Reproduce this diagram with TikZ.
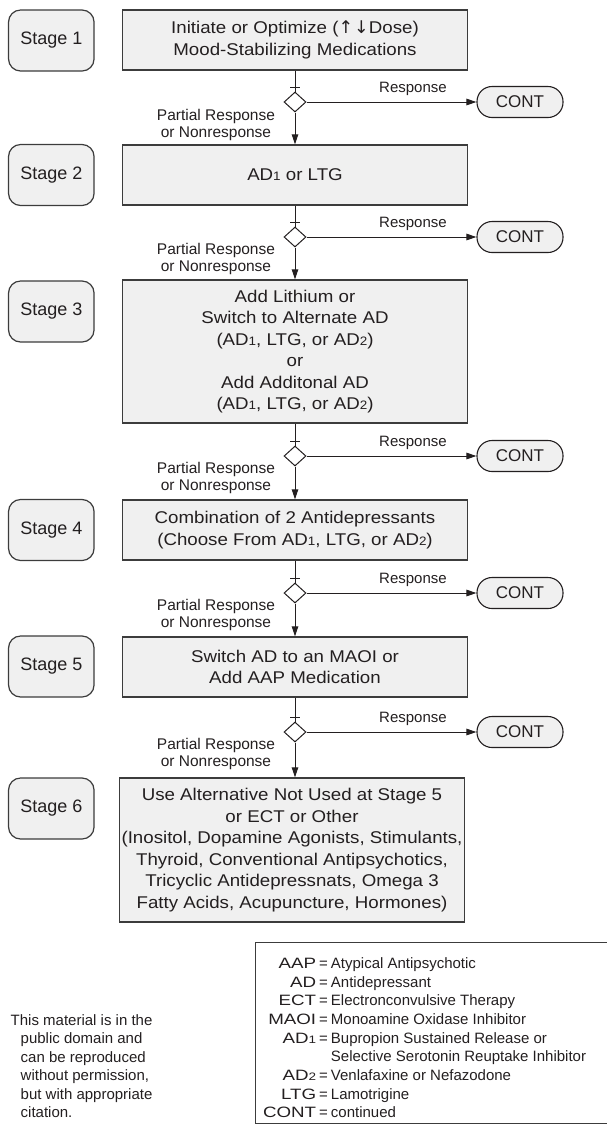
\documentclass[tikz,border=0pt]{standalone}
\usepackage{fontspec}
\setmainfont{Liberation Sans}
\newfontfamily\widefont[FakeStretch=1.1]{Liberation Sans}
\newfontfamily\termfont[FakeStretch=1.25]{Liberation Sans}
\newfontfamily\arrowfont{DejaVu Sans}
\usetikzlibrary{shapes.geometric, arrows.meta, positioning}
\definecolor{inkgray}{HTML}{231F20}
\definecolor{framegray}{HTML}{3C3C3C}
\definecolor{boxfill}{HTML}{F0F0F0}
\newcommand{\dnum}[1]{\scalebox{0.72}{#1}}
\newcommand{\term}[1]{\makebox[58pt][r]{\termfont #1}\hspace{3pt}=\hspace{3pt}}
\tikzset{
  stagebox/.style={draw=framegray, fill=boxfill, line width=1.2pt, rounded corners=12pt,
    minimum width=85.5pt, minimum height=61pt, inner sep=0pt, font=\fontsize{18}{21}\selectfont},
  medbox/.style={draw=framegray, fill=boxfill, line width=1.3pt, minimum width=345.4pt,
    inner xsep=1pt, inner ysep=0pt, align=center, font=\widefont\fontsize{17}{21.5}\selectfont},
  decision/.style={diamond, draw=inkgray, fill=white, line width=1pt,
    minimum width=22pt, minimum height=20pt, inner sep=0pt},
  contbox/.style={draw=inkgray, fill=boxfill, line width=1.1pt, rounded corners=15pt,
    minimum width=86pt, minimum height=31pt, inner sep=0pt, font=\fontsize{17}{17}\selectfont},
  resplabel/.style={font=\fontsize{15}{15}\selectfont},
  partlabel/.style={align=center, font=\fontsize{15.5}{17}\selectfont},
  flow/.style={draw=inkgray, line width=1pt},
}

\begin{document}
\begin{tikzpicture}[x=1pt, y=-1pt, >={Triangle[length=10pt,width=6.5pt]}, every node/.style={text=inkgray}]
  \useasboundingbox (0,0) rectangle (607,1125);

  % Stage labels
  \node[stagebox] (s1) at (51.3,40.5) {Stage 1};
  \node[stagebox] (s2) at (51.3,175) {Stage 2};
  \node[stagebox] (s3) at (51.3,311.5) {Stage 3};
  \node[stagebox] (s4) at (51.3,530) {Stage 4};
  \node[stagebox] (s5) at (51.3,666.5) {Stage 5};
  \node[stagebox] (s6) at (51.3,808.5) {Stage 6};

  % Treatment boxes
  \node[medbox, minimum height=60pt] (b1) at (295,40)
    {Initiate or Optimize ({\arrowfont\fontsize{17.5}{17}\selectfont↑\hspace{1pt}↓}Dose)\\Mood-Stabilizing Medications};
  \node[medbox, minimum height=60pt] (b2) at (295,175) {AD\dnum{1} or LTG};
  \node[medbox, minimum height=143pt] (b3) at (295,351.5)
    {Add Lithium or\\Switch to Alternate AD\\(AD\dnum{1}, LTG, or AD\dnum{2})\\or\\
     Add Additonal AD\\(AD\dnum{1}, LTG, or AD\dnum{2})};
  \node[medbox, minimum height=60pt] (b4) at (295,530)
    {Combination of 2 Antidepressants\\(Choose From AD\dnum{1}, LTG, or AD\dnum{2})};
  \node[medbox, minimum height=60pt] (b5) at (295,667)
    {Switch AD to an MAOI or\\Add AAP Medication};
  \node[medbox, minimum height=144pt] (b6) at (292,850)
    {Use Alternative Not Used at Stage 5\\or ECT or Other\\(Inositol, Dopamine Agonists, Stimulants,\\
     Thyroid, Conventional Antipsychotics,\\Tricyclic Antidepressnats, Omega 3\\Fatty Acids, Acupuncture, Hormones)};

  % Decisions
  \node[decision] (d1) at (295,102) {};
  \node[decision] (d2) at (295,237) {};
  \node[decision] (d3) at (295,456) {};
  \node[decision] (d4) at (295,593) {};
  \node[decision] (d5) at (295,732) {};

  % Continued
  \node[contbox] (c1) at (520,102) {CONT};
  \node[contbox] (c2) at (520,237) {CONT};
  \node[contbox] (c3) at (520,456) {CONT};
  \node[contbox] (c4) at (520,593) {CONT};
  \node[contbox] (c5) at (520,732) {CONT};

  % Ticks
  \coordinate (t1) at (295,87);
  \coordinate (t2) at (295,222);
  \coordinate (t3) at (295,441);
  \coordinate (t4) at (295,578);
  \coordinate (t5) at (295,717);
  \draw[flow] ([xshift=-5pt]t1) -- ([xshift=5pt]t1);
  \draw[flow] ([xshift=-5pt]t2) -- ([xshift=5pt]t2);
  \draw[flow] ([xshift=-5pt]t3) -- ([xshift=5pt]t3);
  \draw[flow] ([xshift=-5pt]t4) -- ([xshift=5pt]t4);
  \draw[flow] ([xshift=-5pt]t5) -- ([xshift=5pt]t5);

  % Connectors
  \draw[flow] (b1) -- (d1);
  \draw[flow, ->] (d1) -- (b2);
  \draw[flow, ->] (d1) -- (c1);
  \draw[flow] (b2) -- (d2);
  \draw[flow, ->] (d2) -- (b3);
  \draw[flow, ->] (d2) -- (c2);
  \draw[flow] (b3) -- (d3);
  \draw[flow, ->] (d3) -- (b4);
  \draw[flow, ->] (d3) -- (c3);
  \draw[flow] (b4) -- (d4);
  \draw[flow, ->] (d4) -- (b5);
  \draw[flow, ->] (d4) -- (c4);
  \draw[flow] (b5) -- (d5);
  \draw[flow, ->] (d5.south) -- (d5.south |- b6.north);
  \draw[flow, ->] (d5) -- (c5);

  % Response labels
  \node[resplabel] (r1) at (413,89) {Response};
  \node[resplabel] (r2) at (413,224) {Response};
  \node[resplabel] (r3) at (413,443) {Response};
  \node[resplabel] (r4) at (413,580) {Response};
  \node[resplabel] (r5) at (413,719) {Response};
  \node[partlabel] (p1) at (216,124.5) {Partial Response\\or Nonresponse};
  \node[partlabel] (p2) at (216,259) {Partial Response\\or Nonresponse};
  \node[partlabel] (p3) at (216,478) {Partial Response\\or Nonresponse};
  \node[partlabel] (p4) at (216,615) {Partial Response\\or Nonresponse};
  \node[partlabel] (p5) at (216,754) {Partial Response\\or Nonresponse};

  % Note and legend
  \node[anchor=north west, inner sep=0pt, font=\fontsize{15}{18.5}\selectfont] (note) at (10.5,1012)
    {\begin{tabular}{@{}l@{}}This material is in the\\\hspace{10pt}public domain and\\
     \hspace{10pt}can be reproduced\\\hspace{10pt}without permission,\\
     \hspace{10pt}but with appropriate\\\hspace{10pt}citation.\end{tabular}};
  \draw[framegray, line width=1pt] (607,942) -- (255.5,942) -- (255.5,1123) -- (607,1123);
  \node[anchor=north west, inner sep=0pt, font=\fontsize{15}{18.7}\selectfont] (legend) at (258,955)
    {\begin{tabular}{@{}l@{}}\term{AAP}Atypical Antipsychotic\\\term{AD}Antidepressant\\
     \term{ECT}Electronconvulsive Therapy\\\term{MAOI}Monoamine Oxidase Inhibitor\\
     \term{AD\dnum{1}}Bupropion Sustained Release or\\
     \makebox[58pt]{}\hspace{6pt}\hphantom{=}Selective Serotonin Reuptake Inhibitor\\
     \term{AD\dnum{2}}Venlafaxine or Nefazodone\\\term{LTG}Lamotrigine\\\term{CONT}continued\end{tabular}};
\end{tikzpicture}
\end{document}
